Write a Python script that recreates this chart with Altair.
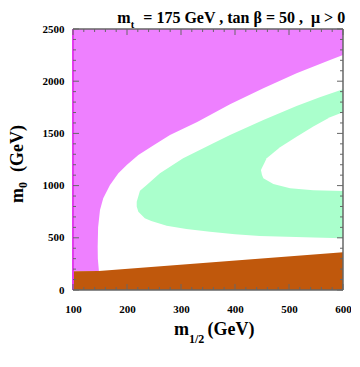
import altair as alt
import pandas as pd

# ---------------- data ----------------
# magenta region: right boundary x(m0); region spans m1/2 = 100 .. boundary
mag_m0 = [180, 300, 415, 600, 766, 880, 1006, 1118, 1200, 1293, 1390, 1485, 1610, 1779, 1932, 2076, 2203, 2250, 2500]
mag_x  = [148, 146, 145.7, 146.5, 150, 156, 168.5, 184, 200, 221, 250, 279.6, 330, 390.8, 452.5, 514, 576, 600, 600]

# green band: left boundary x(m0); band spans boundary .. 600
grn_m0 = [495, 503, 517, 535, 559, 585, 616, 660, 687, 750, 800, 846, 950, 1006, 1118, 1262, 1405, 1485, 1629, 1763, 1847, 1923]
grn_x  = [600, 546, 446, 400, 353.7, 310, 273.5, 245, 233, 221, 218, 218, 224, 236.5, 261, 304, 359.8, 390.8, 452.5, 514, 557, 600]

# white hole inside the green band: left boundary x(m0); spans boundary .. 600
hole_m0 = [948, 955, 974, 1015, 1070, 1102, 1150, 1261, 1367, 1469, 1565, 1654, 1702]
hole_x  = [600, 545, 502, 471, 452.5, 450, 448, 458.7, 483.4, 514, 545, 576, 600]

# brown region: top boundary m0(x)
brn_x   = [100, 148, 600]
brn_top = [180, 182, 362]

x_major = [100, 200, 300, 400, 500, 600]
x_minor = [v for v in range(100, 601, 20) if v % 100 != 0]
y_major = [0, 500, 1000, 1500, 2000, 2500]
y_minor = [v for v in range(0, 2501, 100) if v % 500 != 0]

X_MIN, X_MAX = 100, 600
Y_MIN, Y_MAX = 0, 2500

# ---------------- style ----------------
W, H = 270, 261
FONT = "Liberation Serif"
MAGENTA = "#ee80ff"
GREEN = "#aaffcc"
BROWN = "#c0580c"
FRAME = "#666666"

xscale = alt.Scale(domain=[X_MIN, X_MAX], nice=False, zero=False)
yscale = alt.Scale(domain=[Y_MIN, Y_MAX], nice=False, zero=False)
xaxis = alt.Axis(values=x_major, title=None, domain=False, ticks=False, grid=False, format="d",
                 labelFont=FONT, labelFontWeight="bold", labelFontSize=11, labelColor="black",
                 labelPadding=13, labelFlush=False)
yaxis = alt.Axis(values=y_major, title=None, domain=False, ticks=False, grid=False, format="d",
                 labelFont=FONT, labelFontWeight="bold", labelFontSize=11, labelColor="black",
                 labelPadding=9)

def X(field):
    return alt.X(field, type="quantitative", scale=xscale, axis=xaxis)

def Y(field):
    return alt.Y(field, type="quantitative", scale=yscale, axis=yaxis)

mag_df = pd.DataFrame({"m0": mag_m0, "x": mag_x, "x2": [X_MIN] * len(mag_m0)})
grn_df = pd.DataFrame({"m0": grn_m0, "x": grn_x, "x2": [X_MAX] * len(grn_m0)})
hole_df = pd.DataFrame({"m0": hole_m0, "x": hole_x, "x2": [X_MAX] * len(hole_m0)})
brn_df = pd.DataFrame({"x": brn_x, "top": brn_top, "bot": [Y_MIN] * len(brn_x)})

magenta = alt.Chart(mag_df).mark_area(orient="horizontal", color=MAGENTA).encode(
    y=Y("m0"), x=X("x"), x2="x2")
green = alt.Chart(grn_df).mark_area(orient="horizontal", color=GREEN).encode(
    y=Y("m0"), x=X("x"), x2="x2")
hole = alt.Chart(hole_df).mark_area(orient="horizontal", color="white").encode(
    y=Y("m0"), x=X("x"), x2="x2")
brown = alt.Chart(brn_df).mark_area(orient="vertical", color=BROWN).encode(
    x=X("x"), y=Y("top"), y2="bot")

# frame
frame_h = alt.Chart(pd.DataFrame({"p": [0, H]})).mark_rule(color=FRAME, strokeWidth=1.5).encode(
    y=alt.Y("p:Q", scale=None), x=alt.value(0), x2=alt.value(W))
frame_r = alt.Chart(pd.DataFrame({"p": [W]})).mark_rule(color=FRAME, strokeWidth=1.5).encode(
    x=alt.X("p:Q", scale=None), y=alt.value(0), y2=alt.value(H))
frame_l = alt.Chart(pd.DataFrame({"p": [X_MIN]})).mark_rule(color="#e23cee", strokeWidth=2).encode(
    x=X("p"), y=alt.value(0), y2=alt.value(H))

def xticks(vals, length):
    df = pd.DataFrame({"v": vals})
    b = alt.Chart(df).mark_rule(color=FRAME, strokeWidth=1).encode(
        x=X("v"), y=alt.value(H), y2=alt.value(H - length))
    t = alt.Chart(df).mark_rule(color=FRAME, strokeWidth=1).encode(
        x=X("v"), y=alt.value(0), y2=alt.value(length))
    return [b, t]

def yticks(vals, length):
    df = pd.DataFrame({"v": vals})
    l = alt.Chart(df).mark_rule(color=FRAME, strokeWidth=1).encode(
        y=Y("v"), x=alt.value(0), x2=alt.value(length))
    r = alt.Chart(df).mark_rule(color=FRAME, strokeWidth=1).encode(
        y=Y("v"), x=alt.value(W), x2=alt.value(W - length))
    return [l, r]

ticks = xticks(x_major, 6) + xticks(x_minor, 3) + yticks(y_major, 6) + yticks(y_minor, 3)

def label(text, x, y, size, align="left", angle=0):
    kw = dict(font=FONT, fontWeight="bold", fontSize=size, align=align,
              baseline="alphabetic", color="black")
    if angle:
        kw["angle"] = angle
    return alt.Chart(pd.DataFrame({"t": [text]})).mark_text(**kw).encode(
        text="t:N", x=alt.value(x), y=alt.value(y))

texts = [
    # top title
    label("m", 44.3, -6, 16),
    label("t", 57.8, -1.5, 10.5),
    label("= 175 GeV , tan \u03b2 = 50 ,\u00a0 \u03bc > 0", 70.3, -6, 16),
    # x title
    label("m", 101, 306, 18),
    label("1/2", 116, 314, 12),
    label("(GeV)", 134.5, 306, 18),
    # y title
    label("m", -50, 174, 18, angle=270),
    label("0", -46, 159, 12, angle=270),
    label("(GeV)", -50, 143, 18, angle=270),
]

chart = alt.layer(
    magenta, green, hole, brown, frame_l, frame_h, frame_r, *ticks, *texts
).resolve_scale(x="shared", y="shared").properties(
    width=W, height=H,
    autosize=alt.AutoSizeParams(type="none"),
    padding={"left": 65, "top": 21, "right": 8, "bottom": 68},
).configure_view(stroke=None)

chart.save("out.html", embed_options={"renderer": "svg", "actions": False})
